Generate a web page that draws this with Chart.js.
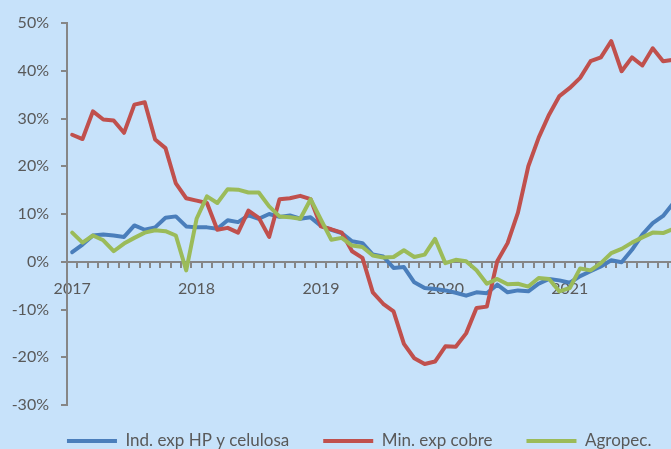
<!DOCTYPE html>
<html>
<head>
<meta charset="utf-8">
<script src="https://cdn.jsdelivr.net/npm/chart.js@4.4.1/dist/chart.umd.min.js"></script>
<style>
  html, body { margin: 0; padding: 0; background: #c7e2fa; overflow: hidden; width: 671px; height: 449px; }
  #wrap { position: absolute; left: 0; top: 0; width: 700px; height: 466px; }
</style>
</head>
<body>
<div id="wrap"><canvas id="c" width="700" height="466"></canvas></div>
<script>
const years = ['2017', '2018', '2019', '2020', '2021'];
const monthsOfYear = ['01','02','03','04','05','06','07','08','09','10','11','12'];
const categories = [];
years.forEach(y => monthsOfYear.forEach(m => categories.push(y + '-' + m)));

const seriesNames = ['Ind. exp HP y celulosa', 'Min. exp cobre', 'Agropec.'];

const hpCelulosa = [
  2.0, 3.6, 5.5, 5.7, 5.5, 5.2, 7.6, 6.7, 7.2, 9.2, 9.5, 7.4,
  7.2, 7.2, 6.9, 8.7, 8.3, 9.7, 9.0, 10.0, 9.4, 9.7, 9.0, 9.3,
  7.5, 6.7, 6.0, 4.3, 3.9, 1.5, 1.1, -1.3, -1.1, -4.3, -5.5, -5.7,
  -6.0, -6.5, -7.1, -6.4, -6.6, -4.8, -6.4, -6.0, -6.2, -4.6, -3.6, -3.9,
  -4.4, -3.0, -2.0, -1.0, 0.3, -0.1, 2.5, 5.7, 8.1, 9.6, 12.3, 14.0
];
const minCobre = [
  26.6, 25.7, 31.5, 29.8, 29.6, 27.0, 32.9, 33.4, 25.6, 23.8, 16.4, 13.3,
  12.8, 12.3, 6.7, 7.1, 6.1, 10.7, 9.2, 5.2, 13.1, 13.3, 13.8, 13.1,
  7.4, 6.8, 6.1, 2.2, 0.8, -6.4, -8.8, -10.4, -17.2, -20.2, -21.4, -20.9,
  -17.7, -17.8, -15.0, -9.7, -9.4, 0.1, 3.9, 10.3, 20.0, 26.0, 30.8, 34.7,
  36.4, 38.5, 42.0, 42.8, 46.2, 39.9, 42.8, 41.1, 44.7, 42.0, 42.3, 42.5
];
const agropec = [
  6.1, 4.0, 5.5, 4.5, 2.2, 3.8, 5.0, 6.1, 6.6, 6.4, 5.5, -1.8,
  9.0, 13.7, 12.3, 15.2, 15.1, 14.5, 14.5, 11.6, 9.5, 9.3, 9.0, 13.1,
  8.8, 4.6, 5.0, 3.4, 3.1, 1.3, 0.9, 1.0, 2.4, 1.0, 1.5, 4.8,
  -0.3, 0.4, 0.1, -1.8, -4.6, -3.6, -4.7, -4.6, -5.2, -3.4, -3.6, -6.2,
  -5.5, -1.4, -1.8, -0.3, 1.8, 2.7, 4.0, 5.1, 6.1, 6.0, 6.9, 7.3
];
const yMin = -30, yMax = 50, yStep = 10;

const axisGray = '#868686';
const textGray = '#595959';
const axisFont = { family: 'Lato', size: 16 };
const legendFont = { family: 'Lato', size: 17 };

function lineDs(label, data, color, order) {
  return {
    label, data, borderColor: color, backgroundColor: color,
    borderWidth: 4, pointRadius: 0, tension: 0, fill: false,
    borderJoinStyle: 'round', borderCapStyle: 'round', order
  };
}

// shifts the legend box after layout so it sits where the original one does
const legendOffset = {
  id: 'legendOffset',
  afterLayout(chart, args, opts) {
    const l = chart.legend;
    if (!l) return;
    l.left += opts.dx; l.right += opts.dx;
    l.top += opts.dy; l.bottom += opts.dy;
  }
};

new Chart(document.getElementById('c'), {
  type: 'line',
  data: {
    labels: categories,
    datasets: [
      lineDs(seriesNames[0], hpCelulosa, '#4a7ebb', 2),
      lineDs(seriesNames[1], minCobre, '#c0504d', 1),
      lineDs(seriesNames[2], agropec, '#9bbb59', 0)
    ]
  },
  plugins: [legendOffset],
  options: {
    responsive: false,
    animation: false,
    devicePixelRatio: 1,
    layout: { padding: { left: 0, right: 11, top: 23, bottom: 0 } },
    plugins: {
      legendOffset: { dx: 14.7, dy: -6.5 },
      legend: {
        position: 'bottom',
        labels: {
          usePointStyle: true, pointStyle: 'line', pointStyleWidth: 50,
          padding: 34, color: textGray, font: legendFont,
          sort: (a, b) => a.datasetIndex - b.datasetIndex
        }
      },
      tooltip: { enabled: false }
    },
    scales: {
      x: {
        position: { y: 0 },
        offset: true,
        grid: { offset: true, drawOnChartArea: false, drawTicks: true, tickLength: 5, color: axisGray, lineWidth: 2 },
        border: { color: axisGray, width: 2 },
        ticks: {
          autoSkip: false, maxRotation: 0, minRotation: 0, padding: 12,
          color: textGray, font: axisFont,
          callback: (v, i) => (i % 12 === 0 ? categories[i].slice(0, 4) : '')
        }
      },
      y: {
        min: yMin, max: yMax,
        afterFit: s => { s.width = 67; },
        grid: { drawOnChartArea: false, drawTicks: true, tickLength: 6, color: axisGray, lineWidth: 2 },
        border: { color: axisGray, width: 2 },
        ticks: { stepSize: yStep, padding: 12, color: textGray, font: axisFont, callback: v => v + '%' }
      }
    }
  }
});
</script>
</body>
</html>
